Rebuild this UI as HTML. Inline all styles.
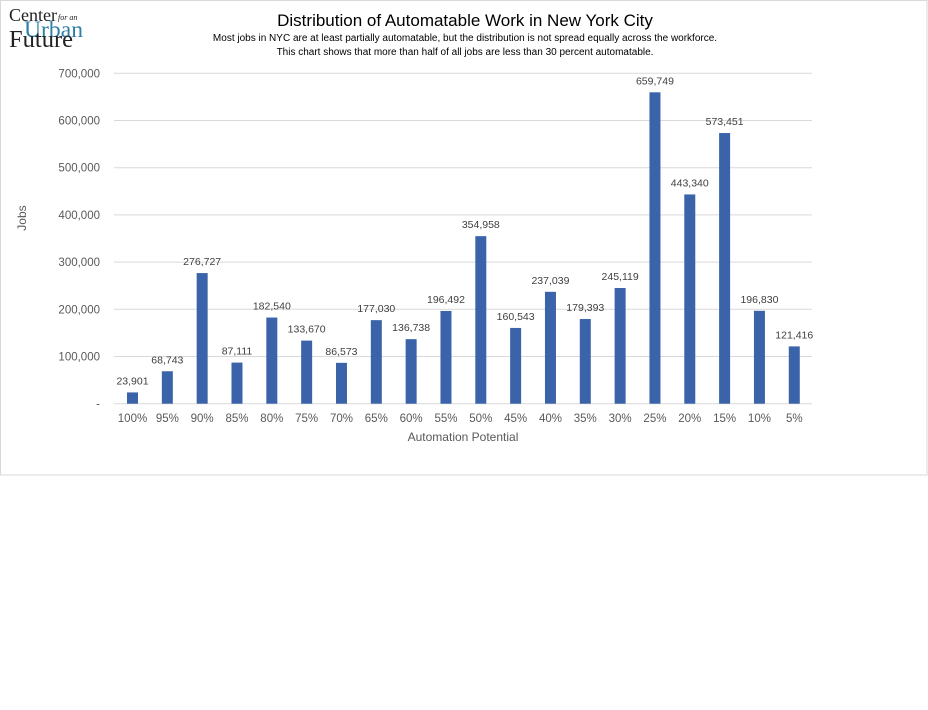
<!DOCTYPE html>
<html><head><meta charset="utf-8"><style>
body{margin:0;background:#fff;width:928px;height:705px;overflow:hidden}
svg text{font-family:"Liberation Sans",sans-serif}
</style></head><body>
<svg width="928" height="705" xmlns="http://www.w3.org/2000/svg">
<rect x="0.5" y="0.5" width="926.5" height="474.5" fill="#fff" stroke="#d9d9d9"/>
<text x="9" y="21" font-size="18" fill="#222" style="font-family:'Liberation Serif',serif">Center</text>
<text x="58" y="20" font-size="8" font-style="italic" fill="#222" style="font-family:'Liberation Serif',serif">for an</text>
<text x="24" y="37" font-size="23" fill="#2e7fa6" style="font-family:'Liberation Serif',serif" textLength="59" lengthAdjust="spacingAndGlyphs">Urban</text>
<text x="9" y="47" font-size="24" fill="#222" style="font-family:'Liberation Serif',serif" textLength="64" lengthAdjust="spacingAndGlyphs">Future</text>
<text x="465" y="26" text-anchor="middle" font-size="17" fill="#000">Distribution of Automatable Work in New York City</text>
<text x="465" y="41" text-anchor="middle" font-size="10" fill="#000">Most jobs in NYC are at least partially automatable, but the distribution is not spread equally across the workforce.</text>
<text x="465" y="55" text-anchor="middle" font-size="10" fill="#000">This chart shows that more than half of all jobs are less than 30 percent automatable.</text>
<g id="g"></g>
<text x="26" y="218" font-size="12" fill="#595959" transform="rotate(-90 26 218)" text-anchor="middle">Jobs</text>
<text x="463" y="441" font-size="12" fill="#595959" text-anchor="middle">Automation Potential</text>
</svg>
<script>
const g=document.getElementById('g');const ns='http://www.w3.org/2000/svg';
function el(t,a,txt){const e=document.createElementNS(ns,t);for(const k in a)e.setAttribute(k,a[k]);if(txt!==undefined)e.textContent=txt;g.appendChild(e);return e;}
const y0=403.7,k=330.4/700000;
for(let i=0;i<=7;i++){const y=y0-i*100000*k;el('line',{x1:114,x2:812,y1:y,y2:y,stroke:'#d9d9d9','stroke-width':1});
el('text',{x:100,y:y+4,'text-anchor':'end','font-size':11.5,fill:'#595959'},i==0?'-':(i*100)+',000');}
const v=[23901,68743,276727,87111,182540,133670,86573,177030,136738,196492,354958,160543,237039,179393,245119,659749,443340,573451,196830,121416];
v.forEach((d,i)=>{const cx=132.5+i*34.83,h=d*k;
el('rect',{x:cx-5.5,y:y0-h,width:11,height:h,fill:'#3a63aa'});
el('text',{x:cx,y:y0-h-8,'text-anchor':'middle','font-size':10.5,fill:'#404040'},d.toLocaleString('en-US'));
el('text',{x:cx,y:422,'text-anchor':'middle','font-size':11.5,fill:'#595959'},(100-i*5)+'%');});
</script>
</body></html>
